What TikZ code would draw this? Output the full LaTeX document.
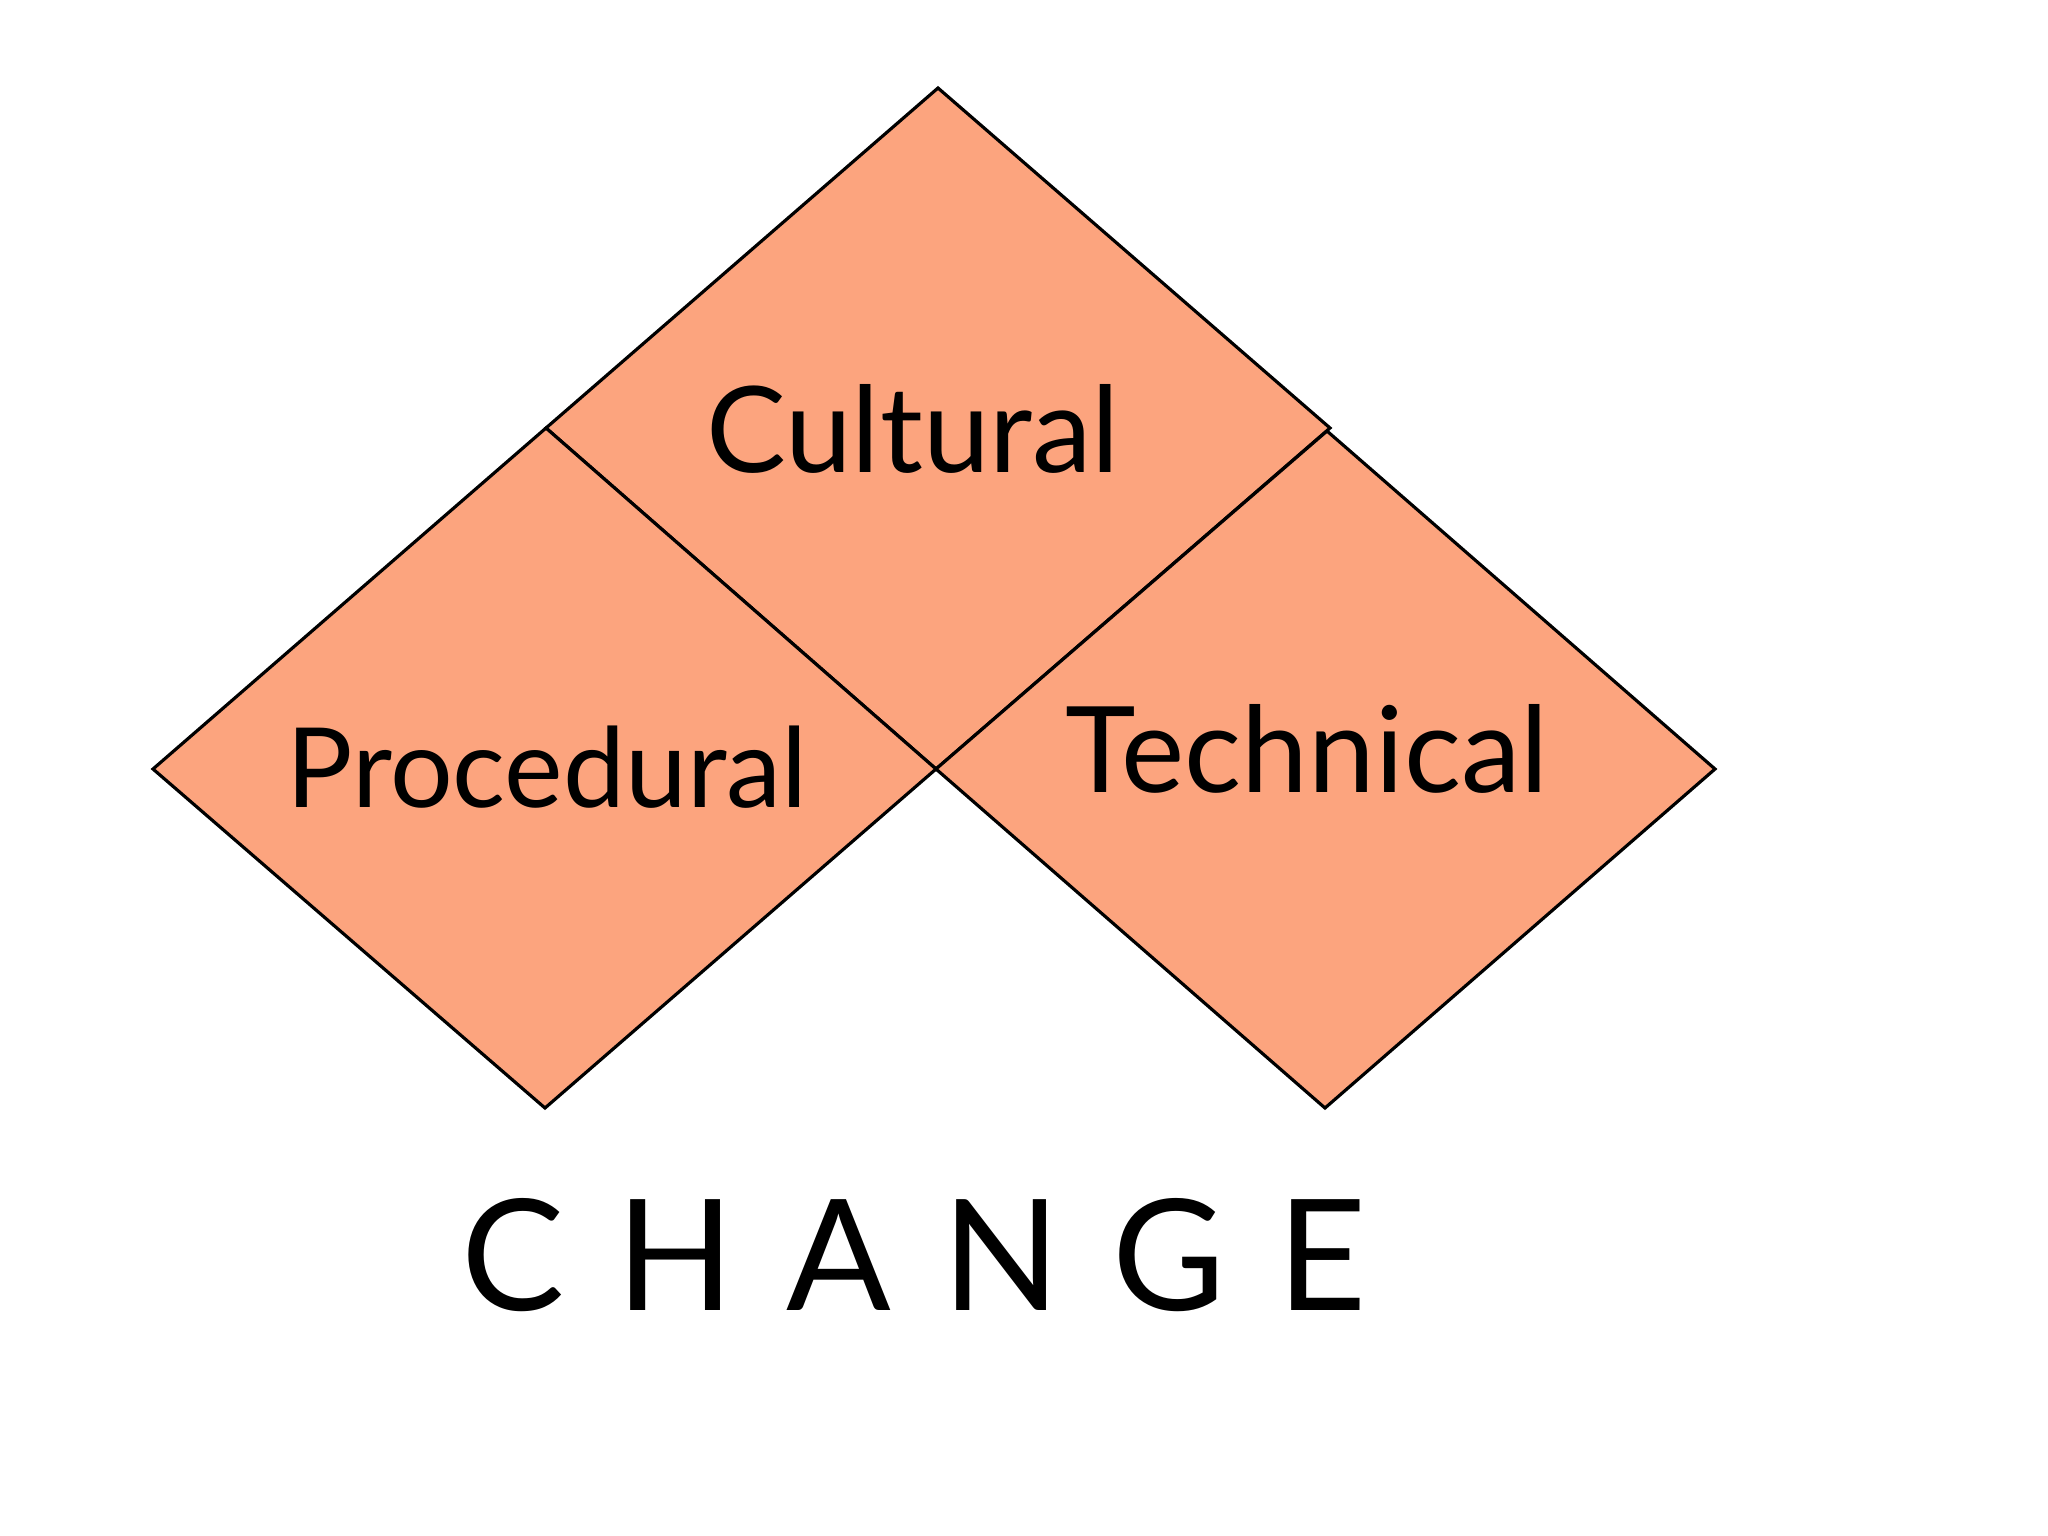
\documentclass[tikz,border=0pt]{standalone}
\usepackage{fontspec}
\setmainfont{Lato}
\usepackage{tikz}
\definecolor{salmon}{RGB}{252,164,126}

\begin{document}
\begin{tikzpicture}[x=0.01cm,y=-0.01cm,
    piece/.style={fill=salmon,draw=black,line width=0.9pt,line join=miter},
    word/.style={anchor=base,inner sep=0pt}]
    \useasboundingbox (0,0) rectangle (2048,1536);

    % corners
    \coordinate (ct) at (938,88);
    \coordinate (cl) at (546,428);
    \coordinate (cr) at (1330,428);
    \coordinate (mid) at (936,769);
    \coordinate (pl) at (153,769);
    \coordinate (pb) at (545,1108);
    \coordinate (tt) at (1327,431);
    \coordinate (tr) at (1715,769);
    \coordinate (tb) at (1325,1108);

    % Cultural
    \draw[piece] (ct) -- (cr) -- (mid) -- (cl) -- cycle;
    % Procedural
    \draw[piece] (cl) -- (mid) -- (pb) -- (pl) -- cycle;
    % Technical
    \draw[piece] (tt) -- (tr) -- (tb) -- (mid) -- cycle;

    % Labels
    \node[word,font=\fontsize{34}{40}\selectfont] (cultural) at (913,472) {Cultural};
    \node[word,font=\fontsize{31.5}{38}\selectfont] (procedural) at (547,807) {Procedural};
    \node[word,font=\fontsize{34}{40}\selectfont] (technical) at (1307,792) {Technical};
    \node[word,font=\fontsize{44}{50}\selectfont] (change) at (914,1310) {C\,\,H\,\,A\,\,N\,\,G\,\,E};

\end{tikzpicture}
\end{document}
